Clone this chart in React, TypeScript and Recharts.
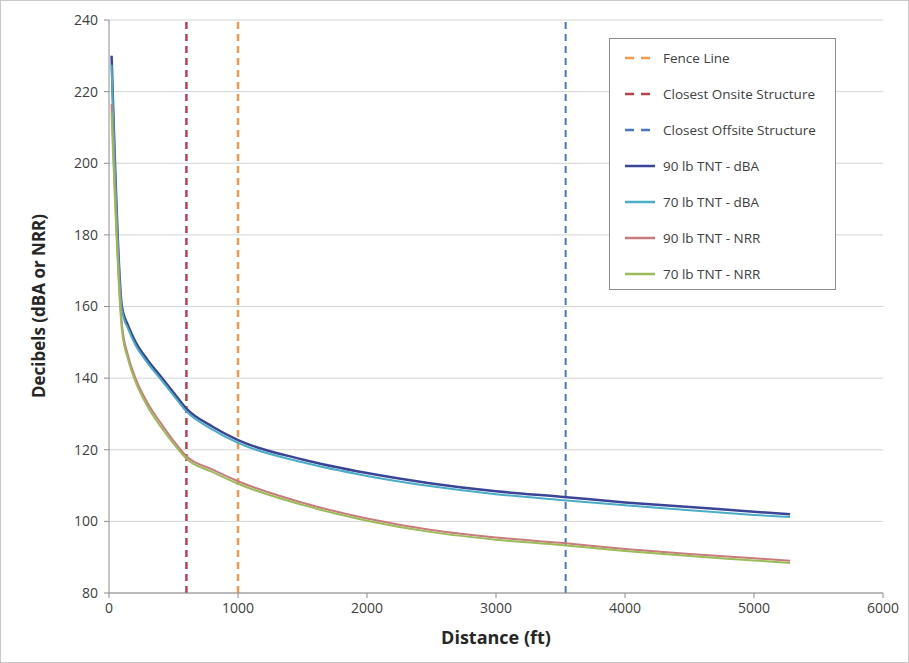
import React from 'react';
import { LineChart, Line, XAxis, YAxis, CartesianGrid } from 'recharts';

const distances = [20, 100, 150, 200, 300, 400, 500, 600, 800, 1000, 1500, 2000, 2500, 3000, 3500, 4000, 4500, 5000, 5280];
const dba90 = [230, 160, 154.5, 150.5, 145, 140.5, 136, 131.5, 126.5, 122.7, 117.3, 113.5, 110.6, 108.4, 106.9, 105.3, 104, 102.7, 102];
const dba70 = [227.5, 159, 153.6, 149.6, 144.2, 139.7, 135.2, 130.7, 125.7, 121.9, 116.5, 112.7, 109.8, 107.6, 106, 104.5, 103.1, 101.8, 101.2];
const nrr90 = [216.5, 155, 146, 140.5, 133, 127.5, 122.5, 118.2, 114.5, 111.2, 105.2, 100.8, 97.6, 95.5, 94, 92.3, 90.9, 89.7, 89];
const nrr70 = [214, 153.5, 145, 139.5, 132, 126.5, 121.7, 117.5, 113.8, 110.5, 104.6, 100.2, 97, 94.9, 93.4, 91.7, 90.3, 89.1, 88.4];

const fenceLine = 1000;
const onsiteStructure = 600;
const offsiteStructure = 3540;
const yRange = [80, 240];

const xTicks = [0, 1000, 2000, 3000, 4000, 5000, 6000];
const yTicks = [80, 100, 120, 140, 160, 180, 200, 220, 240];

const rows = distances.map((d, i) => ({ d, a90: dba90[i], a70: dba70[i], n90: nrr90[i], n70: nrr70[i] }));
const vline = (x: number) => yRange.map((y) => ({ d: x, v: y }));

const FONT = '"Open Sans", "Noto Sans", sans-serif';

const legendItems = [
  { name: 'Fence Line', color: '#F59A4A', dashed: true },
  { name: 'Closest Onsite Structure', color: '#B8414F', dashed: true },
  { name: 'Closest Offsite Structure', color: '#4A76C0', dashed: true },
  { name: '90 lb TNT - dBA', color: '#3A4596', dashed: false },
  { name: '70 lb TNT - dBA', color: '#4BACC6', dashed: false },
  { name: '90 lb TNT - NRR', color: '#C77B7B', dashed: false },
  { name: '70 lb TNT - NRR', color: '#9BBB59', dashed: false },
];

const LegendBox = () => (
  <div
    style={{
      position: 'absolute',
      left: 609,
      top: 38,
      width: 227,
      height: 252,
      border: '1px solid #8C8C8C',
      boxSizing: 'border-box',
      background: '#fff',
      paddingTop: 1,
      fontFamily: FONT,
    }}
  >
    {legendItems.map((it) => (
      <div key={it.name} style={{ display: 'flex', alignItems: 'center', height: 36, paddingLeft: 15 }}>
        <svg width={30} height={6} style={{ marginRight: 8, flexShrink: 0 }}>
          <line
            x1={0}
            y1={3}
            x2={30}
            y2={3}
            stroke={it.color}
            strokeWidth={2.5}
            strokeDasharray={it.dashed ? '9 7' : undefined}
          />
        </svg>
        <span style={{ fontSize: 13.5, color: '#404040', whiteSpace: 'nowrap' }}>{it.name}</span>
      </div>
    ))}
  </div>
);

const YTitle = () => (
  <text
    x={38}
    y={306}
    transform="rotate(-90 38 306)"
    textAnchor="middle"
    dominantBaseline="central"
    style={{ fontFamily: FONT, fontSize: 17, fontWeight: 700, fill: '#262626' }}
  >
    Decibels (dBA or NRR)
  </text>
);

const XTitle = () => (
  <text
    x={496}
    y={637}
    textAnchor="middle"
    dominantBaseline="central"
    style={{ fontFamily: FONT, fontSize: 18, fontWeight: 700, fill: '#262626' }}
  >
    Distance (ft)
  </text>
);

export default function App() {
  return (
    <div
      style={{
        position: 'absolute',
        left: 0,
        top: 0,
        width: 909,
        height: 663,
        background: '#fff',
        border: '1px solid #C8C8C8',
        boxSizing: 'border-box',
      }}
    >
      <div style={{ position: 'absolute', left: -1, top: -1, width: 909, height: 663 }}>
        <LineChart width={909} height={663} data={rows} margin={{ top: 20, right: 26, bottom: 0, left: 0 }}>
          <CartesianGrid vertical={false} stroke="#D4D4D4" strokeWidth={1} />
          <XAxis
            dataKey="d"
            type="number"
            domain={[0, 6000]}
            ticks={xTicks}
            height={70}
            stroke="#8C8C8C"
            tickSize={5}
            tick={{ fill: '#404040', fontSize: 14, fontFamily: FONT }}
            tickMargin={5}
            allowDataOverflow
            label={<XTitle />}
          />
          <YAxis
            type="number"
            domain={yRange}
            ticks={yTicks}
            width={109}
            stroke="#8C8C8C"
            tickSize={5}
            tick={{ fill: '#404040', fontSize: 14, fontFamily: FONT }}
            tickMargin={6}
            allowDataOverflow
            label={<YTitle />}
          />
          <Line data={vline(fenceLine)} dataKey="v" stroke="#F59A4A" strokeWidth={2.5} strokeDasharray="7 5" dot={false} isAnimationActive={false} />
          <Line data={vline(onsiteStructure)} dataKey="v" stroke="#B8414F" strokeWidth={2.5} strokeDasharray="7 5" dot={false} isAnimationActive={false} />
          <Line data={vline(offsiteStructure)} dataKey="v" stroke="#4A76C0" strokeWidth={2} strokeDasharray="7 5" dot={false} isAnimationActive={false} />
          <Line type="monotone" dataKey="a90" stroke="#3A4596" strokeWidth={2.5} dot={false} isAnimationActive={false} />
          <Line type="monotone" dataKey="a70" stroke="#4BACC6" strokeWidth={2} dot={false} isAnimationActive={false} />
          <Line type="monotone" dataKey="n90" stroke="#C77B7B" strokeWidth={2} dot={false} isAnimationActive={false} />
          <Line type="monotone" dataKey="n70" stroke="#9BBB59" strokeWidth={2} dot={false} isAnimationActive={false} />
        </LineChart>
        <LegendBox />
      </div>
    </div>
  );
}
